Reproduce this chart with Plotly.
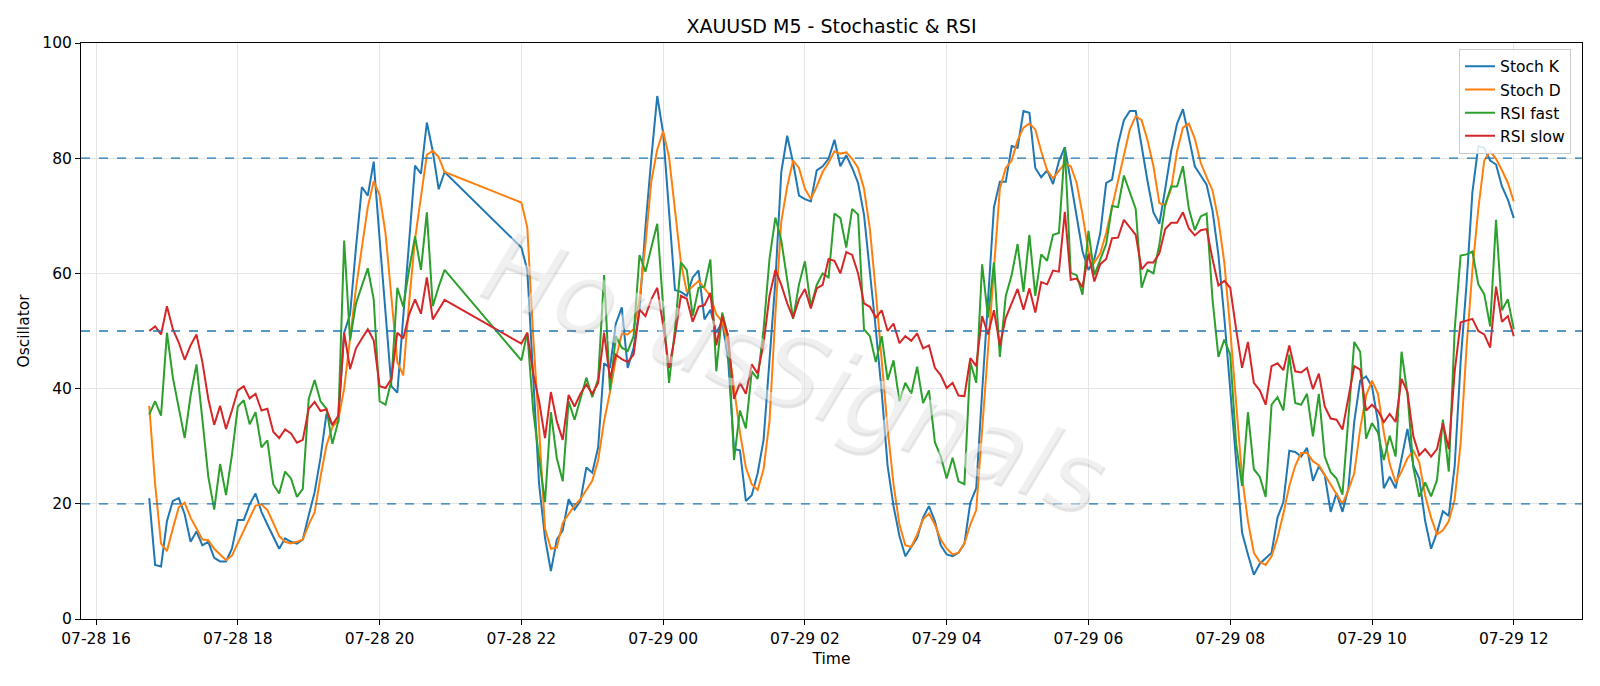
import pandas as pd
import plotly.graph_objects as go

# ---- data ----
seg_a_start = "2025-07-28 16:45"   # 5-minute bars up to 20:55
seg_b_start = "2025-07-28 22:00"   # 5-minute bars up to 12:00

stoch_k_a = [21, 9.4, 9.1, 17, 20.5, 21, 18.2, 13.4, 15.2, 12.8,
             13.4, 10.6, 10, 10, 12.2, 17.2, 17.2, 19.9, 21.8, 18.6,
             16.4, 14.4, 12.2, 14, 13.4, 13.1, 13.8, 18, 22, 28,
             35.6, 33.7, 34.3, 49.7, 52.9, 64.5, 75, 73.5, 79.4, 66,
             53, 40.4, 39.3, 52.4, 65.6, 78.7, 77.3, 86.2, 81.2, 74.6,
             77.6]
stoch_d_a = [37, 23.4, 13.1, 11.8, 15.7, 19.4, 20.2, 17.6, 15.7, 13.8,
             13.7, 12.2, 11.2, 10.2, 11, 13.1, 15.4, 17.6, 19.7, 19.9,
             18.9, 16.7, 14.4, 13.4, 13.1, 13.4, 13.8, 16.4, 18.5, 24.7,
             30.1, 33.3, 34.6, 40, 48.4, 57.4, 64.5, 71.5, 76, 73.6,
             67, 55.5, 44.6, 42.3, 55, 66, 73.5, 80.6, 81.3, 80.2,
             77.6]
rsi_fast_a = [35.5, 37.8, 35.3, 49.7, 41.9, 36.9, 31.4, 38.8, 44.2, 34.6,
              24.7, 19, 26.9, 21.5, 28.5, 36.9, 38, 33.8, 35.9, 29.8,
              31, 23.4, 21.8, 25.6, 24.4, 21.2, 22.6, 38.2, 41.5, 37.8,
              36.5, 30.4, 34.3, 65.7, 48.4, 54.8, 57.7, 60.9, 55.5, 37.8,
              37.2, 41.4, 57.5, 54.2, 60.7, 66.4, 60.6, 70.6, 54.3, 57.7,
              60.6]
rsi_slow_a = [50, 50.8, 49.4, 54.3, 50.3, 48, 45, 47.5, 49.4, 44.6,
              38.2, 33.7, 37, 33, 36.2, 39.7, 40.4, 38.3, 39.1, 36.2,
              36.5, 32.5, 31.4, 32.9, 32.2, 30.6, 31.1, 36.5, 37.7, 36.1,
              36.4, 33.7, 35.3, 49.7, 43.4, 47, 48.7, 50.3, 48.4, 40.4,
              40.1, 41.7, 49.7, 48.7, 52.9, 55.5, 53, 59.3, 52, 53.7,
              55.4]

stoch_k_b = [64.5, 60.6, 42.6, 23.4, 14.1, 8.3, 13.8, 15.4, 20.8, 19,
             20.5, 26.3, 25.4, 29.8, 44.4, 43.6, 51.3, 54.1, 43.6, 47.1,
             53.6, 68, 80, 90.8, 84.4, 70.2, 57.1, 56.8, 56.1, 59.3,
             60.5, 52, 53.7, 49.7, 51.6, 45, 29.5, 29.3, 20.5, 21.5,
             25.3, 31.1, 45, 58.7, 77.6, 83.9, 79.2, 73.5, 72.9, 72.5,
             77.9, 78.6, 79.9, 83.2, 78.6, 80.5, 78.3, 75.7, 70.2, 60.6,
             50.3, 39.4, 26.6, 19.6, 14.4, 10.9, 12.5, 14.1, 17.6, 19.6,
             17, 12.8, 11.2, 10.9, 11.5, 13.1, 20.2, 22.7, 39.4, 55.5,
             71.5, 75.9, 75.9, 82.1, 81.8, 88.2, 87.9, 78.3, 76.7, 77.9,
             75.5, 79.5, 81.9, 76, 70.2, 63.8, 60.6, 62.5, 67, 75.7,
             76.3, 82.4, 86.6, 88.2, 88.2, 81.8, 76, 70.6, 68.6, 74.7,
             81.2, 86, 88.5, 83.6, 78.6, 77, 75.4, 70.9, 63.2, 52.3,
             39.4, 26.6, 15, 11.2, 7.7, 9.6, 10.6, 11.5, 17.6, 20.3,
             29.2, 29, 28.2, 29.7, 24, 26.5, 25, 18.6, 21.8, 18.6,
             22.7, 34.3, 41.4, 42.1, 40.4, 34.3, 22.7, 24.7, 22.7, 27.9,
             33, 26.6, 24.4, 17, 12.2, 15, 18.7, 17.9, 26.6, 44.6,
             58.1, 74.1, 82.1, 81.8, 79.6, 78.9, 75.1, 72.8, 69.6]
stoch_d_b = [72.3, 68, 49.1, 33, 15.7, 12.2, 12.4, 16.7, 18.3, 19.7,
             20.8, 22.4, 24, 27.6, 34.3, 39.4, 45.2, 49.6, 49.4, 50.3,
             55.5, 65, 76, 81.5, 84.7, 80.2, 70.9, 61.9, 56.8, 57.7,
             58.7, 57.4, 56.1, 52.9, 51.6, 47.8, 40.1, 32.4, 26.3, 23.4,
             22.4, 26, 34.3, 52.9, 69, 75.1, 79.6, 78.3, 74.7, 72.9,
             75.1, 77.6, 79.2, 81.2, 80.8, 81, 79.9, 78.3, 74.7, 67.7,
             56.8, 44.6, 33, 23.4, 16.4, 12.8, 12.5, 14.7, 17.3, 18.3,
             16.4, 13.8, 12.2, 11.2, 11.5, 13.1, 16.4, 18.9, 33, 47.8,
             62, 74.7, 78.3, 79.6, 83.1, 85.3, 86, 85, 81.2, 77.9,
             76.5, 77.8, 79.1, 78.6, 75.7, 70.2, 63.8, 61.9, 63.5, 67,
             71.5, 75.7, 80.2, 85, 87.3, 86.6, 83.1, 78.6, 72.2, 71.8,
             74.7, 81.2, 85.3, 86, 83.4, 79.2, 76.7, 74.4, 69.3, 61.9,
             50.3, 37.5, 24.7, 17, 11.5, 9.9, 9.4, 10.9, 14.1, 18.3,
             23.1, 26.6, 28.8, 28.8, 27.4, 26.7, 25, 23.4, 21.8, 20,
             22.4, 25.3, 33, 38.8, 41.4, 39.1, 32.4, 26.9, 23.7, 25.6,
             27.9, 29.2, 27.2, 21.4, 17.6, 14.7, 15.4, 17, 20.8, 30.4,
             47.1, 60.6, 71.2, 79.6, 81.2, 79.9, 77.9, 75.7, 72.5]
rsi_fast_b = [44.9, 49.7, 36.2, 27.9, 20.3, 35.9, 27.9, 23.9, 37.8, 34.6,
              38.5, 41.9, 38.5, 41.7, 59.7, 39.7, 49.1, 47.1, 46.5, 49.1,
              63.2, 60.3, 64.5, 68.6, 54.2, 41, 50.3, 61.9, 60.6, 52.6,
              57.5, 57.7, 62.4, 43, 53.2, 49, 27.6, 36.2, 33.1, 43,
              41.7, 50.3, 62.5, 69.7, 65.7, 58.7, 52.1, 58.1, 62.1, 54.2,
              58, 60, 59.3, 70.4, 69.6, 64.5, 71.2, 70.2, 50.3, 49.1,
              44.6, 49.1, 41.5, 44.9, 37.8, 41, 39.1, 43.8, 37.5, 39.7,
              30.7, 28.2, 24.4, 28, 23.9, 23.4, 44.6, 41, 61.6, 52.3,
              61.9, 45.5, 56.1, 59.7, 65.1, 56.8, 66.7, 56.1, 63.3, 62.2,
              66.7, 67, 81.8, 60.1, 59.7, 56.3, 67.4, 59.7, 62.5, 65.1,
              71.7, 71.5, 77, 74.1, 71.2, 57.5, 60.6, 60, 65, 72,
              75.1, 75.1, 78.6, 71.2, 67.5, 69.9, 70.4, 55.5, 45.5, 48.5,
              45.9, 30.4, 23.1, 35.9, 26, 24.7, 21.2, 37.2, 38.5, 36.2,
              45.9, 37.5, 37.2, 39.1, 31.7, 39.1, 28.2, 25.5, 24.4, 21.6,
              34.6, 48.1, 46.4, 31.3, 34, 32.4, 27.6, 31.8, 28.2, 46.4,
              39.1, 26.3, 21.2, 23.7, 21.3, 24.1, 34.6, 25.6, 50.3, 63.1,
              63.3, 63.8, 58.1, 56.4, 50.8, 69.3, 53.6, 55.5, 50.3]
rsi_slow_b = [47.8, 49.7, 42.6, 37.8, 31.4, 39.4, 34.3, 31.1, 38.9, 36.9,
              39.1, 40.7, 39.1, 41, 49.7, 41.7, 45.9, 45.1, 44.6, 45.9,
              53.7, 52.6, 55.5, 57.5, 51, 43.6, 49.1, 56.1, 55.6, 51.6,
              54.2, 54.5, 56.6, 47.5, 52.6, 49.1, 38.2, 41, 39.1, 44.2,
              42.6, 47.8, 56.1, 60.6, 58, 54.8, 52.3, 55.5, 57.3, 53.9,
              57.4, 58, 62.5, 62.2, 60, 63.7, 63.2, 60, 54.8, 54.2,
              52.3, 53.6, 50, 51.3, 47.9, 49.1, 48.3, 49.6, 47, 47.5,
              43.6, 42.3, 40.1, 41, 38.8, 38.7, 45.3, 43.9, 52.6, 49.4,
              53.6, 47.5, 52.3, 54.8, 57.3, 53.7, 57.4, 53.2, 58.5, 58.1,
              60.5, 60.3, 70.7, 58.9, 59.1, 57.6, 63.4, 58.6, 61.6, 62.5,
              66.1, 66.2, 69.3, 68, 66.7, 60.7, 61.9, 61.9, 63.5, 67.7,
              68.8, 68.8, 70.6, 67.8, 66.6, 67.5, 67.7, 62.5, 57.9, 58.7,
              57.5, 50.3, 43.6, 48.1, 41, 39.7, 37.2, 43.9, 44.4, 43.2,
              47.5, 43, 42.8, 43.6, 39.9, 42.6, 36.9, 34.8, 34.6, 32.9,
              38.5, 43.9, 43.3, 36.2, 37.2, 36.2, 34.2, 35.6, 34.2, 41.7,
              39.4, 31.7, 28.4, 29.5, 28.2, 29.5, 34, 29.5, 43, 51.5,
              51.8, 52.1, 50, 49.4, 47.1, 57.7, 51.6, 52.6, 49.1]

levels = [80, 50, 20]
series_names = ["Stoch K", "Stoch D", "RSI fast", "RSI slow"]
series_colors = ["#1f77b4", "#ff7f0e", "#2ca02c", "#d62728"]

# ---- build ----
times = list(pd.date_range(seg_a_start, periods=len(stoch_k_a), freq="5min")) + \
        list(pd.date_range(seg_b_start, periods=len(stoch_k_b), freq="5min"))
values = [stoch_k_a + stoch_k_b, stoch_d_a + stoch_d_b,
          rsi_fast_a + rsi_fast_b, rsi_slow_a + rsi_slow_b]

fig = go.Figure()
for name, col, vals in zip(series_names, series_colors, values):
    fig.add_trace(go.Scatter(x=times, y=vals, mode="lines", name=name,
                             line=dict(color=col, width=2)))

for lv in levels:
    fig.add_shape(type="line", xref="paper", yref="y", x0=0, x1=1, y0=lv, y1=lv,
                  line=dict(color="#1f77b4", width=1.3, dash="dash"), layer="above")

t0, t1 = times[0], times[-1]
pad = (t1 - t0) * 0.05
font_family = "DejaVu Sans"

fig.add_annotation(text="HorusSignals", xref="paper", yref="paper", x=0.475, y=0.43,
                   showarrow=False, textangle=20,
                   font=dict(family=font_family, size=100, color="rgba(255,255,255,0.45)",
                             style="italic", weight=200,
                             shadow="2px 3px 1px rgba(120,120,120,0.45)"))

fig.update_layout(
    width=1600, height=686,
    paper_bgcolor="white", plot_bgcolor="white",
    margin=dict(l=81, r=18, t=43, b=67),
    title=dict(text="XAUUSD M5 - Stochastic & RSI", x=0.5, xref="paper", xanchor="center",
               y=1 - 26 / 686, yanchor="middle",
               font=dict(family=font_family, size=19, color="black")),
    font=dict(family=font_family, size=15, color="black"),
    showlegend=True,
    legend=dict(x=0.9927, y=0.99, xanchor="right", yanchor="top",
                bgcolor="rgba(255,255,255,0.85)", bordercolor="#cccccc", borderwidth=1,
                font=dict(family=font_family, size=15.5), itemwidth=30,
                tracegroupgap=0),
)
fig.update_xaxes(range=[t0 - pad, t1 + pad], type="date",
                 tick0="2025-07-28 00:00", dtick=2 * 3600 * 1000, tickformat="%m-%d %H",
                 showgrid=True, gridcolor="#e5e5e5", gridwidth=1,
                 showline=True, linecolor="black", linewidth=1, mirror=True,
                 ticks="outside", ticklen=5, tickcolor="black",
                 title=dict(text="Time", font=dict(size=15.5), standoff=6),
                 tickfont=dict(size=15.5), zeroline=False)
fig.update_yaxes(range=[0, 100], tick0=0, dtick=20,
                 showgrid=True, gridcolor="#e5e5e5", gridwidth=1,
                 showline=True, linecolor="black", linewidth=1, mirror=True,
                 ticks="outside", ticklen=5, tickcolor="black",
                 title=dict(text="Oscillator", font=dict(size=15.5), standoff=8),
                 tickfont=dict(size=15.5), zeroline=False)

fig.write_html("out.html")
